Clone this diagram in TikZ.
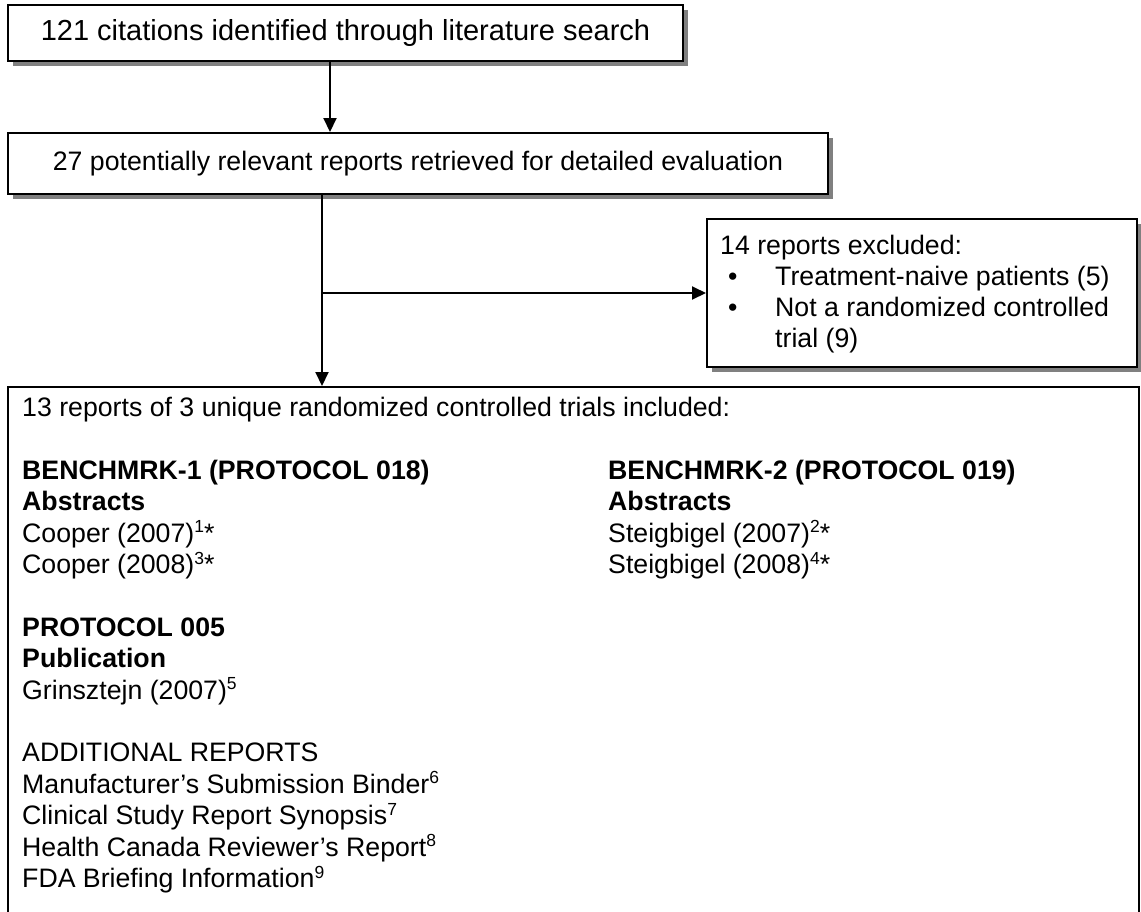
\documentclass[tikz,border=0pt]{standalone}
\usepackage{fontspec}
\setmainfont{Liberation Sans}
\usetikzlibrary{arrows.meta,shadows}
\newcommand{\supr}[1]{\raisebox{9.5pt}{\fontsize{17.5}{18}\selectfont #1}}
\begin{document}
\begin{tikzpicture}[x=1pt,y=-1pt,
  box/.style={draw=black, line width=2pt, fill=white, rectangle, inner sep=0pt,
    drop shadow={shadow xshift=5pt, shadow yshift=-5pt, fill=black!50, opacity=1}},
  plainbox/.style={draw=black, line width=2pt, fill=white, rectangle, inner sep=0pt},
  txt/.style={anchor=base west, inner sep=0pt, font=\fontsize{26.7}{31}\selectfont},
  btxt/.style={txt, font=\fontsize{26.7}{31}\selectfont\bfseries},
  conn/.style={line width=2pt},
  arr/.style={conn, -{Triangle[length=14pt,width=13pt]}}]
\useasboundingbox (0,0) rectangle (1141,911);
\clip (0,0) rectangle (1141,911);
% boxes
\node[box, minimum width=675pt, minimum height=56pt, font=\fontsize{29}{33}\selectfont] (b1) at (345.5,33) {121 citations identified through literature search};
\node[box, minimum width=820pt, minimum height=61pt, font=\fontsize{26.7}{31}\selectfont] (b2) at (418,163.5) {27 potentially relevant reports retrieved for detailed evaluation};
\node[box, minimum width=430pt, minimum height=148pt] (ex) at (922,293) {};
\node[plainbox, minimum width=1131pt, minimum height=600pt] (inc) at (573.5,687) {};
% connectors
\coordinate (a1) at (330,0);
\coordinate (a2) at (322,0);
\draw[arr] (b1.south -| a1) -- (b2.north -| a1);
\draw[arr] (b2.south -| a2) -- (inc.north -| a2);
\draw[arr] (a2 |- ex.west) -- (ex.west);
% exclusion text
\node[txt] (e0) at (720,254) {14 reports excluded:};
\node[txt] (e1) at (728,285) {\makebox[47pt][l]{•}Treatment-naive patients (5)};
\node[txt] (e2) at (728,316) {\makebox[47pt][l]{•}Not a randomized controlled};
\node[txt] (e3) at (775,347) {trial (9)};
% included text, left column
\node[txt] (t0) at (22,416.5) {13 reports of 3 unique randomized controlled trials included:};
\node[btxt] (l1) at (22,479.3) {BENCHMRK-1 (PROTOCOL 018)};
\node[btxt] (l2) at (22,510.7) {Abstracts};
\node[txt] (l3) at (22,542.1) {Cooper (2007)\supr{1}*};
\node[txt] (l4) at (22,573.5) {Cooper (2008)\supr{3}*};
\node[btxt] (l5) at (22,636.3) {PROTOCOL 005};
\node[btxt] (l6) at (22,667.7) {Publication};
\node[txt] (l7) at (22,699.1) {Grinsztejn (2007)\supr{5}};
\node[txt] (l8) at (22,761.9) {ADDITIONAL REPORTS};
\node[txt] (l9) at (22,793.3) {Manufacturer’s Submission Binder\supr{6}};
\node[txt] (l10) at (22,824.7) {Clinical Study Report Synopsis\supr{7}};
\node[txt] (l11) at (22,856.1) {Health Canada Reviewer’s Report\supr{8}};
\node[txt] (l12) at (22,887.5) {FDA Briefing Information\supr{9}};
% right column
\node[btxt] (r1) at (608,479.3) {BENCHMRK-2 (PROTOCOL 019)};
\node[btxt] (r2) at (608,510.7) {Abstracts};
\node[txt] (r3) at (608,542.1) {Steigbigel (2007)\supr{2}*};
\node[txt] (r4) at (608,573.5) {Steigbigel (2008)\supr{4}*};
\end{tikzpicture}
\end{document}
